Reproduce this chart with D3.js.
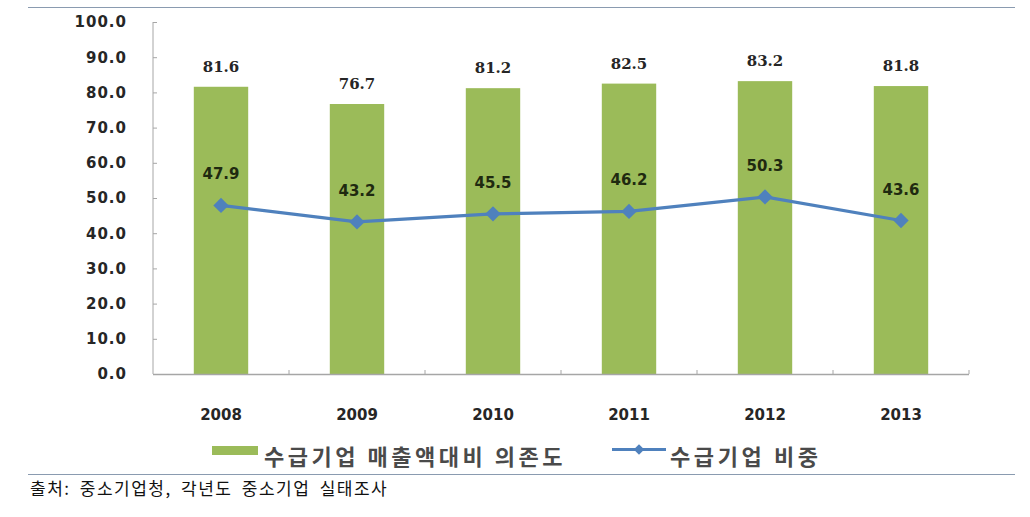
<!DOCTYPE html>
<html><head><meta charset="utf-8">
<script src="https://cdn.jsdelivr.net/npm/d3@7"></script>
<style>body{margin:0;background:#fff;} svg{display:block;}</style>
</head><body>
<svg id="c" width="1030" height="517"></svg>
<script>
const years = ["2008","2009","2010","2011","2012","2013"];
const dependence = [81.6, 76.7, 81.2, 82.5, 83.2, 81.8];
const share = [47.9, 43.2, 45.5, 46.2, 50.3, 43.6];
const yTicks = [0,10,20,30,40,50,60,70,80,90,100];
const barName = "수급기업 매출액대비 의존도";
const lineName = "수급기업 비중";
const sourceText = "출처: 중소기업청, 각년도 중소기업 실태조사";

const svg = d3.select("#c");
const x = d3.scaleBand().domain(years).range([153, 969]).paddingInner(0.6).paddingOuter(0.3);
const y = d3.scaleLinear().domain([0,100]).range([374, 22]);
const green = "#9bbb59", blue = "#4f81bd";

// rules
svg.append("line").attr("x1",28).attr("x2",1015).attr("y1",7.5).attr("y2",7.5).attr("stroke","#8a9bb0").attr("stroke-width",1.2);
svg.append("line").attr("x1",28).attr("x2",1015).attr("y1",474.5).attr("y2",474.5).attr("stroke","#8a9bb0").attr("stroke-width",1.2);

// bars
svg.selectAll("rect.bar").data(years).join("rect").attr("class","bar")
  .attr("x", d=>x(d)).attr("width", x.bandwidth())
  .attr("y", (d,i)=>y(dependence[i])).attr("height",(d,i)=>y(0)-y(dependence[i]))
  .attr("fill", green);

// y axis
const ya = svg.append("g").attr("transform","translate(153,0)")
  .call(d3.axisRight(y).tickValues(yTicks).tickSize(4).tickFormat(""));
ya.select(".domain").attr("stroke","#a6a6a6").attr("d","M0,"+y(100)+"V"+y(0));
ya.selectAll(".tick line").attr("stroke","#a6a6a6");
svg.append("g").selectAll("text").data(yTicks).join("text")
  .attr("x",127).attr("y",d=>y(d)).attr("dy","0.36em").attr("text-anchor","end")
  .style("font-family","'DejaVu Sans', sans-serif").style("font-weight","bold")
  .style("font-size","15px").style("letter-spacing","1px").attr("fill","#262626")
  .text(d=>d3.format(".1f")(d));

// x axis
const step = x.step();
const bounds = d3.range(years.length+1).map(i=> x(years[0]) - (step - x.bandwidth())/2 + i*step);
svg.append("line").attr("x1",153).attr("x2",bounds[bounds.length-1]).attr("y1",374.5).attr("y2",374.5).attr("stroke","#a6a6a6").attr("stroke-width",1.5);
svg.append("g").selectAll("line").data(bounds.slice(1)).join("line")
  .attr("x1",d=>d).attr("x2",d=>d).attr("y1",374).attr("y2",370).attr("stroke","#a6a6a6");
svg.append("g").selectAll("text").data(years).join("text")
  .attr("x",d=>x(d)+x.bandwidth()/2).attr("y",420).attr("text-anchor","middle")
  .style("font-family","'DejaVu Sans', sans-serif").style("font-weight","bold")
  .style("font-size","15px").attr("fill","#262626").text(d=>d);

// bar labels
svg.append("g").selectAll("text").data(years).join("text")
  .attr("x",d=>x(d)+x.bandwidth()/2).attr("y",(d,i)=>y(dependence[i])-15).attr("text-anchor","middle")
  .style("font-family","'DejaVu Serif', serif").style("font-weight","bold")
  .style("font-size","15px").attr("fill","#262626").text((d,i)=>d3.format(".1f")(dependence[i]));

// line
const cx = d=>x(d)+x.bandwidth()/2;
svg.append("path").datum(years)
  .attr("d", d3.line().x(cx).y((d,i)=>y(share[i])))
  .attr("fill","none").attr("stroke",blue).attr("stroke-width",3.2);
svg.append("g").selectAll("path").data(years).join("path")
  .attr("transform",(d,i)=>`translate(${cx(d)},${y(share[i])})`)
  .attr("d", d3.symbol(d3.symbolDiamond2, 150)).attr("fill",blue);
svg.append("g").selectAll("text").data(years).join("text")
  .attr("x",cx).attr("y",(d,i)=>y(share[i])-26).attr("text-anchor","middle")
  .style("font-family","'DejaVu Sans', sans-serif").style("font-weight","bold")
  .style("font-size","15px").attr("fill","#1f2a10").text((d,i)=>d3.format(".1f")(share[i]));

// legend
const lg = svg.append("g");
lg.append("rect").attr("x",212).attr("y",446).attr("width",46).attr("height",9).attr("fill",green);
lg.append("text").attr("x",264).attr("y",465)
  .style("font-family","'Noto Sans CJK KR', sans-serif").style("font-weight","bold")
  .style("font-size","22px").style("letter-spacing","3.5px").attr("fill","#4a4a4a").text(barName);
lg.append("line").attr("x1",612).attr("x2",666).attr("y1",449.5).attr("y2",449.5).attr("stroke",blue).attr("stroke-width",3);
lg.append("path").attr("transform","translate(639,449.5)").attr("d",d3.symbol(d3.symbolDiamond2,70)).attr("fill",blue);
lg.append("text").attr("x",670).attr("y",465)
  .style("font-family","'Noto Sans CJK KR', sans-serif").style("font-weight","bold")
  .style("font-size","22px").style("letter-spacing","3.6px").attr("fill","#4a4a4a").text(lineName);

// source
svg.append("text").attr("x",30).attr("y",495)
  .style("font-family","'Noto Sans CJK KR', sans-serif").style("font-weight","normal")
  .style("font-size","17px").style("letter-spacing","1.5px").style("word-spacing","4px")
  .attr("fill","#111").text(sourceText);
</script>
</body></html>
